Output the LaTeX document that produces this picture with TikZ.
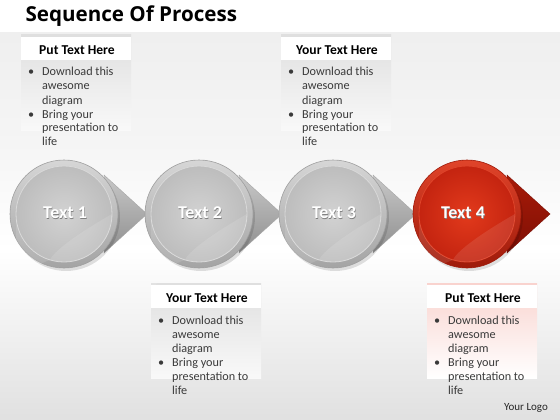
\documentclass[tikz,border=0pt]{standalone}
\usepackage{fontspec}
\setmainfont{Carlito}
\newfontfamily\titlefont{Open Sans}
\usetikzlibrary{shadings}
\definecolor{bggray}{HTML}{EFEFEF}
\definecolor{ringtop}{HTML}{D6D6D6}
\definecolor{ringbot}{HTML}{A4A4A4}
\definecolor{disklight}{HTML}{D2D2D2}
\definecolor{diskdark}{HTML}{BDBDBD}
\definecolor{tritop}{HTML}{C8C8C8}
\definecolor{tribot}{HTML}{8E8E8E}
\definecolor{redtop}{HTML}{E0442A}
\definecolor{redbot}{HTML}{9E1A0A}
\definecolor{redlight}{HTML}{E23A1C}
\definecolor{reddark}{HTML}{C42410}
\definecolor{redtri}{HTML}{A81A08}
\definecolor{redtrib}{HTML}{7E1005}
\definecolor{pinkbox}{HTML}{F9D3CE}
\newcommand{\boxbody}{{\fontsize{12.2}{14}\selectfont\color[HTML]{3A3A3A}%
\begin{tabular}{@{}p{11pt}@{\hspace{3pt}}l@{}}\textbullet&Download this\\&awesome\\&diagram\\\textbullet&Bring your\\&presentation to\\&life\end{tabular}}}
\newcommand{\shtext}[1]{\makebox[0pt]{\raisebox{-1pt}{\hspace{1pt}\color{black!50}#1}}\makebox[0pt]{#1}}
\tikzset{
  hdr/.style={font=\fontsize{13.6}{15}\selectfont\bfseries, text=black, anchor=center},
  bodytxt/.style={anchor=north west, inner sep=0pt, align=left},
  circtxt/.style={font=\fontsize{18}{20}\selectfont\bfseries, text=white},
}
\begin{document}
\begin{tikzpicture}[x=1pt,y=-1pt]
\useasboundingbox (0,0) rectangle (560,420);
% background
\fill[white] (0,0) rectangle (560,420);
\shade[top color=bggray, bottom color=white, middle color=white!96!black] (0,33) rectangle (560,250);
\shade[top color=white, bottom color=white!88!black] (0,250) rectangle (560,420);
% title
\node[anchor=west, font=\titlefont\fontsize{20.6}{23}\selectfont\bfseries] (title) at (22,16) {Sequence Of Process};
% text boxes
\foreach \bx/\by/\hd/\nm in {21/35/Put Text Here/b1, 281/35/Your Text Here/b2, 151/283/Your Text Here/b3}{
  \shade[top color=gray!25, bottom color=bggray!40] (\bx,\by) rectangle ++(110,95);
  \fill[white] (\bx,\by+2) rectangle ++(110,23);
  \node[hdr] (\nm h) at (\bx+56,\by+15) {\hd};
  \node[bodytxt] (\nm t) at (\bx+7,\by+31) {\boxbody};
}
\shade[top color=pinkbox, bottom color=white] (427,283) rectangle ++(110,95);
\fill[white] (427,285) rectangle ++(110,23);
\node[hdr] (b4h) at (483,298) {Put Text Here};
\node[bodytxt] (b4t) at (434,314) {\boxbody};
\node[font=\fontsize{11}{13}\selectfont, text=black!85] (logo) at (526,408) {Your Logo};
% circles
\foreach \cx/\nm/\lbl in {64/c1/Text 1, 199/c2/Text 2, 333/c3/Text 3}{
  \shade[top color=tritop, bottom color=tribot, draw=gray!70, line width=0.4pt]
    (\cx+40,175) -- (\cx+83,214) -- (\cx+40,253) -- cycle;
  \fill[black, opacity=0.12] (\cx+2,217) circle (54);
  \shade[top color=ringtop, bottom color=ringbot, draw=gray!75, line width=0.6pt] (\cx,214) circle (54);
  \shade[inner color=disklight, outer color=diskdark, draw=white!85!black, line width=0.8pt] (\cx,214) circle (48);
  \fill[white, opacity=0.12] (\cx-48,214) arc (180:0:48) .. controls (\cx+20,230) and (\cx-10,250) .. (\cx-14,260) arc (253:180:48) -- cycle;
  \node[circtxt] (\nm) at (\cx+1,213) {\shtext{\lbl}};
}
\shade[top color=redtri, bottom color=redtrib, draw=redtrib, line width=0.4pt]
  (467+40,175) -- (467+83,214) -- (467+40,253) -- cycle;
\fill[black, opacity=0.12] (469,217) circle (54);
\shade[top color=redtop, bottom color=redbot, draw=redbot, line width=0.6pt] (467,214) circle (54);
\shade[inner color=redlight, outer color=reddark, draw=redtop, line width=0.8pt] (467,214) circle (48);
\fill[white, opacity=0.10] (467-48,214) arc (180:0:48) .. controls (467+20,230) and (467-10,250) .. (467-14,260) arc (253:180:48) -- cycle;
\node[circtxt] (c4) at (463,213) {\shtext{Text 4}};
\end{tikzpicture}
\end{document}
